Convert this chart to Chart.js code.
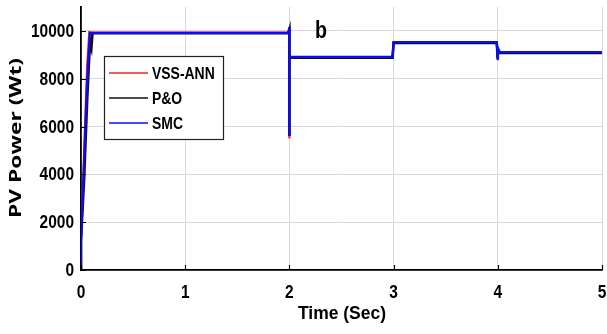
<!DOCTYPE html>
<html>
<head>
<meta charset="utf-8">
<script src="https://cdn.jsdelivr.net/npm/chart.js@4.4.1/dist/chart.umd.min.js"></script>
<style>
  html, body { margin: 0; padding: 0; background: #fff; }
</style>
</head>
<body>
<canvas id="pvChart" width="607" height="334"></canvas>
<script>
// data
const seriesNames = ['VSS-ANN', 'P&O', 'SMC'];
const seriesColors = ['#ff2020', '#111111', '#0a0aff'];

const timeVSS  = [0, 0, 0.02, 0.04, 0.06, 0.08, 0.1, 1.0, 1.99, 2.0, 2.0, 2.0, 2.01, 2.99, 3.0, 3.99, 4.0, 4.0, 4.02, 5];
const powerVSS = [0, 1200, 3600, 6200, 8600, 9950, 9930, 9930, 9930, 10150, 5500, 8850, 8900, 8900, 9520, 9520, 8800, 9250, 9100, 9100];

const timePO   = [0, 0, 0.03, 0.06, 0.08, 0.09, 0.1, 0.11, 0.12, 1.0, 1.99, 2.0, 2.0, 2.0, 2.01, 2.99, 3.0, 3.99, 4.0, 4.0, 4.02, 5];
const powerPO  = [0, 1300, 3800, 7200, 9000, 9500, 9300, 9900, 9900, 9900, 9900, 10050, 5600, 8850, 8880, 8880, 9500, 9500, 8850, 9200, 9080, 9080];

const timeSMC  = [0, 0, 0.02, 0.04, 0.06, 0.085, 0.1, 1.0, 1.99, 2.0, 2.0, 2.0, 2.01, 2.99, 3.0, 3.99, 4.0, 4.0, 4.02, 5];
const powerSMC = [0, 1250, 3400, 5800, 8000, 9920, 9920, 9920, 9920, 10150, 5600, 8800, 8910, 8910, 9530, 9530, 8780, 9300, 9110, 9110];

const xTicks = [0, 1, 2, 3, 4, 5];
const yTicks = [0, 2000, 4000, 6000, 8000, 10000];

const times = [timeVSS, timePO, timeSMC];
const powers = [powerVSS, powerPO, powerSMC];

const sans = "'Liberation Sans', Arial, sans-serif";

// text in the figure is squeezed sideways, so draw it with a scale
function squeezed(c, text, x, y, sx, align) {
  c.save();
  c.translate(x, y);
  c.scale(sx, 1);
  c.textAlign = align;
  c.fillText(text, 0, 0);
  c.restore();
}

// labels, inner tick marks, boxed legend and panel letter
const figureText = {
  id: 'figureText',
  afterDraw(chart) {
    const c = chart.ctx;
    const xs = chart.scales.x, ys = chart.scales.y;
    const area = chart.chartArea;
    c.save();

    // inward tick marks
    c.strokeStyle = '#000';
    c.lineWidth = 1.2;
    c.beginPath();
    xTicks.forEach(v => {
      const px = Math.round(xs.getPixelForValue(v)) + 0.5;
      c.moveTo(px, area.bottom);
      c.lineTo(px, area.bottom - 5);
    });
    yTicks.forEach(v => {
      const py = Math.round(ys.getPixelForValue(v)) + 0.5;
      c.moveTo(area.left, py);
      c.lineTo(area.left + 5, py);
    });
    c.stroke();

    c.fillStyle = '#000';
    c.textBaseline = 'middle';
    c.font = 'bold 18px ' + sans;
    yTicks.forEach(v => squeezed(c, String(v), area.left - 7, ys.getPixelForValue(v) + 1, 0.86, 'right'));
    xTicks.forEach(v => squeezed(c, String(v), xs.getPixelForValue(v), area.bottom + 23, 0.86, 'center'));

    c.font = 'bold 19px ' + sans;
    squeezed(c, 'Time (Sec)', 342, area.bottom + 44, 0.92, 'center');

    // y title, stretched along its length like the original
    c.font = "bold 16px 'Open Sans', 'DejaVu Sans', sans-serif";
    const tw = c.measureText('PV Power (Wt)').width;
    c.save();
    c.translate(16, 138);
    c.rotate(-Math.PI / 2);
    c.scale(160 / tw, 1);
    c.textAlign = 'center';
    c.fillText('PV Power (Wt)', 0, 0);
    c.restore();

    // legend box
    const left = 104, top = 56, w = 119, h = 83;
    c.fillStyle = '#fff';
    c.fillRect(left, top, w, h);
    c.strokeStyle = '#222';
    c.lineWidth = 1.2;
    c.strokeRect(left + 0.5, top + 0.5, w, h);
    c.font = 'bold 17px ' + sans;
    chart.data.datasets.forEach((ds, i) => {
      const y = top + 17 + i * 25;
      c.strokeStyle = ds.borderColor;
      c.lineWidth = 1.5;
      c.beginPath();
      c.moveTo(left + 5, y);
      c.lineTo(left + 44, y);
      c.stroke();
      c.fillStyle = '#000';
      squeezed(c, ds.label, left + 48, y + 1, 0.82, 'left');
    });

    // panel letter
    c.textBaseline = 'alphabetic';
    c.font = 'bold 24px ' + sans;
    squeezed(c, 'b', 315, 38, 0.82, 'left');
    c.restore();
  }
};

const ctx = document.getElementById('pvChart').getContext('2d');
new Chart(ctx, {
  type: 'line',
  data: {
    datasets: seriesNames.map((name, i) => ({
      label: name,
      data: times[i].map((t, k) => ({ x: t, y: powers[i][k] })),
      borderColor: seriesColors[i],
      borderWidth: i === 1 ? 2.6 : 2.2,
      pointRadius: 0,
      tension: 0,
      fill: false,
      order: 3 - i
    }))
  },
  plugins: [figureText],
  options: {
    responsive: false,
    animation: false,
    devicePixelRatio: 1,
    layout: { padding: { top: 7, right: 5, left: 0, bottom: 0 } },
    plugins: { legend: { display: false }, tooltip: { enabled: false } },
    scales: {
      x: {
        type: 'linear',
        min: 0, max: 5,
        afterBuildTicks: s => { s.ticks = xTicks.map(v => ({ value: v })); },
        afterFit: s => { s.height = 64; s.paddingLeft = 0; s.paddingRight = 0; },
        grid: { color: '#d9d9d9', drawTicks: false },
        border: { color: '#000', width: 1.8 },
        ticks: { display: false }
      },
      y: {
        min: 0, max: 11000,
        afterBuildTicks: s => { s.ticks = yTicks.map(v => ({ value: v })); },
        afterFit: s => { s.width = 81; s.paddingTop = 0; s.paddingBottom = 0; },
        grid: { color: '#d9d9d9', drawTicks: false },
        border: { color: '#000', width: 1.8 },
        ticks: { display: false }
      }
    }
  }
});
</script>
</body>
</html>
